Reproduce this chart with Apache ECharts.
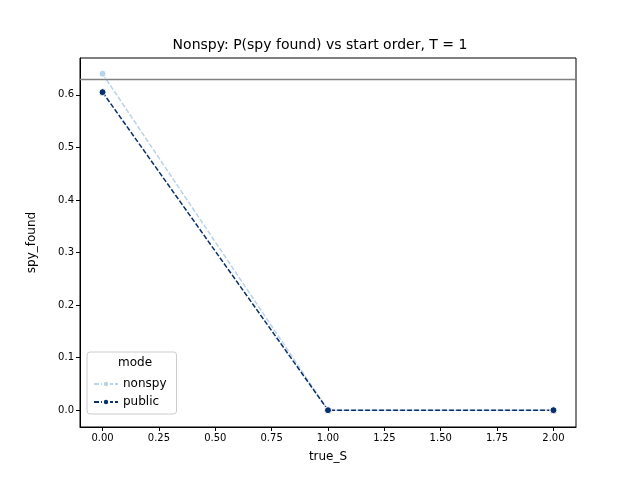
<!DOCTYPE html>
<html>
<head>
<meta charset="utf-8">
<script src="https://cdn.jsdelivr.net/npm/echarts@6/dist/echarts.min.js"></script>
<style>html,body{margin:0;padding:0;background:#fff}#c{width:640px;height:480px}</style>
</head>
<body>
<div id="c"></div>
<script>
// data
var trueS = [0, 1, 2];
var nonspy = [0.64, 0, 0];
var publicMode = [0.605, 0, 0];
var refLine = 0.633;
var xTicks = [0, 0.25, 0.5, 0.75, 1, 1.25, 1.5, 1.75, 2];
var yTicks = [0, 0.1, 0.2, 0.3, 0.4, 0.5, 0.6];

function pairs(xs, ys) {
    return xs.map(function (x, i) { return [x, ys[i]]; });
}

var font = 'DejaVu Sans';
var chart = echarts.init(document.getElementById('c'));
chart.setOption({
    animation: false,
    textStyle: { fontFamily: font },
    title: {
        text: 'Nonspy: P(spy found) vs start order, T = 1',
        left: 'center', top: 33,
        textStyle: { fontFamily: font, fontSize: 14, fontWeight: 'normal', color: '#000' }
    },
    grid: { left: 80, right: 64, top: 58, bottom: 53, show: true, borderColor: '#000', borderWidth: 1 },
    xAxis: {
        type: 'value', min: -0.1, max: 2.1,
        name: 'true_S', nameLocation: 'middle', nameGap: 24,
        nameTextStyle: { fontFamily: font, fontSize: 12, color: '#000' },
        splitLine: { show: false },
        axisLine: { show: true, onZero: false, lineStyle: { color: '#000' } },
        axisTick: { show: true, inside: false, customValues: xTicks, length: 4, lineStyle: { color: '#000' } },
        axisLabel: {
            customValues: xTicks, fontSize: 10, color: '#000', margin: 6,
            formatter: function (v) { return v.toFixed(2); }
        }
    },
    yAxis: {
        type: 'value', min: -0.032, max: 0.67,
        name: 'spy_found', nameLocation: 'middle', nameGap: 42,
        nameTextStyle: { fontFamily: font, fontSize: 12, color: '#000' },
        splitLine: { show: false },
        axisLine: { show: true, onZero: false, lineStyle: { color: '#000' } },
        axisTick: { show: true, inside: false, customValues: yTicks, length: 4, lineStyle: { color: '#000' } },
        axisLabel: {
            customValues: yTicks, fontSize: 10, color: '#000', margin: 6,
            formatter: function (v) { return v.toFixed(1); }
        }
    },
    legend: {
        left: 87, top: 352, orient: 'vertical', itemGap: 6,
        itemWidth: 24, itemHeight: 8,
        padding: [26, 10, 6, 6],
        borderColor: '#ccc', borderWidth: 1, borderRadius: 3, backgroundColor: 'rgba(255,255,255,0.8)',
        textStyle: { fontFamily: font, fontSize: 12, color: '#000' },
        data: ['nonspy', 'public']
    },
    graphic: [{
        type: 'text', left: 118, top: 357,
        style: { text: 'mode', font: '12px DejaVu Sans', fill: '#000' },
        z: 100
    }],
    series: [{
        name: 'nonspy', type: 'line', data: pairs(trueS, nonspy),
        symbol: 'circle', symbolSize: 7,
        lineStyle: { color: '#b8d3ea', width: 1.5, type: [5, 2] },
        itemStyle: { color: '#b8d3ea', borderColor: '#fff', borderWidth: 1 },
        markLine: {
            silent: true, symbol: 'none', label: { show: false },
            lineStyle: { color: '#808080', width: 1.3, type: 'solid' },
            data: [{ yAxis: refLine }]
        }
    }, {
        name: 'public', type: 'line', data: pairs(trueS, publicMode),
        symbol: 'circle', symbolSize: 7,
        lineStyle: { color: '#08306b', width: 1.5, type: [5, 2] },
        itemStyle: { color: '#08306b', borderColor: '#fff', borderWidth: 1 }
    }]
});
</script>
</body>
</html>
